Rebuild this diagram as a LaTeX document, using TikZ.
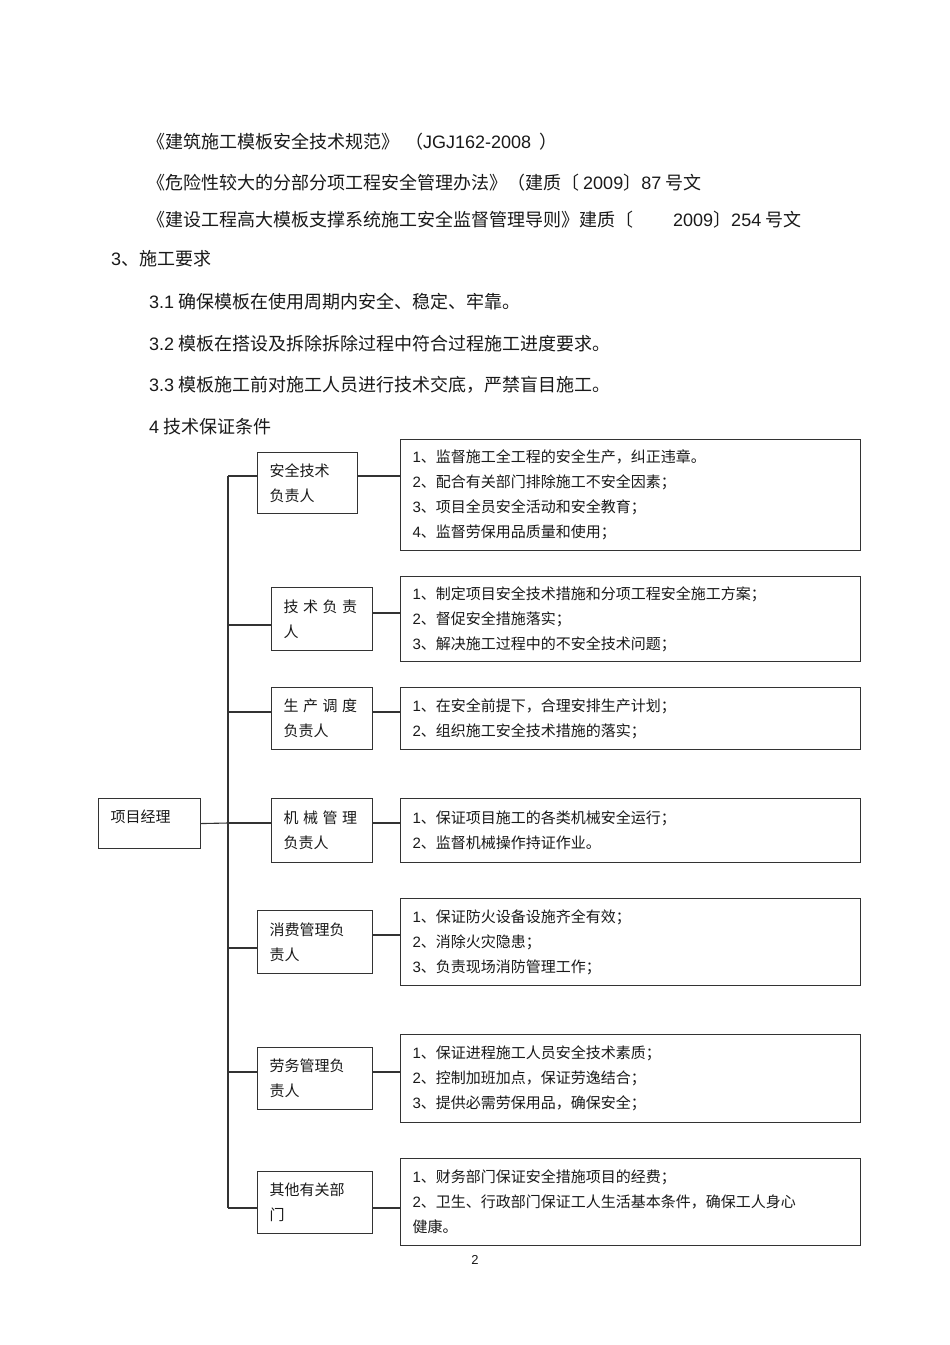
\documentclass[tikz,border=0pt]{standalone}
\usepackage{fontspec}
\setmainfont{Noto Sans CJK SC}
\newfontfamily\latfont{Liberation Sans}
\begin{document}
\begin{tikzpicture}[x=1pt,y=-1pt,
  line/.style={draw=black!80, line width=1.1pt},
  box/.style={draw=black!80, line width=1.1pt, anchor=north west, inner xsep=12pt, inner ysep=0pt, align=left, text=black!90, font=\fontsize{15}{25}\selectfont},
  head/.style={anchor=base west, inner sep=0pt, text=black!90, font=\fontsize{18}{22}\selectfont},
]
\useasboundingbox[fill=white] (0,0) rectangle (950,1345);

% heading text
\node[head] (l1) at (147,148.5) {《建筑施工模板安全技术规范》\hspace{6pt}（{\latfont JGJ162-2008}\hspace{8pt}）};
\node[head] (l2) at (147,189.5) {《危险性较大的分部分项工程安全管理办法》（建质〔 {\latfont 2009}〕{\latfont 87} 号文};
\node[head] (l3) at (147,226.5) {《建设工程高大模板支撑系统施工安全监督管理导则》建质〔\hspace{40pt}{\latfont 2009}〕{\latfont 254} 号文};
\node[head] (l4) at (111,265.5) {{\latfont 3}、施工要求};
\node[head] (l5) at (149,308.5) {{\latfont 3.1} 确保模板在使用周期内安全、稳定、牢靠。};
\node[head] (l6) at (149,350.5) {{\latfont 3.2} 模板在搭设及拆除拆除过程中符合过程施工进度要求。};
\node[head] (l7) at (149,391.5) {{\latfont 3.3} 模板施工前对施工人员进行技术交底，严禁盲目施工。};
\node[head] (l8) at (149,433.5) {{\latfont 4} 技术保证条件};

% project manager
\node[box, minimum width=102pt, minimum height=50pt, text width=78pt] (pm) at (98,798) {\raisebox{6pt}[11pt][2pt]{项目经理}};

% middle boxes
\node[box, minimum width=100pt, minimum height=61pt, text width=76pt] (m1) at (257,452) {安全技术\\负责人};
\node[box, minimum width=101pt, minimum height=63pt, text width=77pt] (m2) at (271,587) {技\hspace{4.5pt}术\hspace{4.5pt}负\hspace{4.5pt}责\\人};
\node[box, minimum width=101pt, minimum height=62pt, text width=77pt] (m3) at (271,687) {生\hspace{4.5pt}产\hspace{4.5pt}调\hspace{4.5pt}度\\负责人};
\node[box, minimum width=101pt, minimum height=64pt, text width=77pt] (m4) at (271,798) {机\hspace{4.5pt}械\hspace{4.5pt}管\hspace{4.5pt}理\\负责人};
\node[box, minimum width=115pt, minimum height=63pt, text width=91pt] (m5) at (257,910) {消费管理负\\责人};
\node[box, minimum width=115pt, minimum height=62pt, text width=91pt] (m6) at (257,1047) {劳务管理负\\责人};
\node[box, minimum width=115pt, minimum height=62pt, text width=91pt] (m7) at (257,1171) {其他有关部\\门};

% right boxes
\node[box, minimum width=460pt, minimum height=111pt, text width=436pt] (r1) at (400,439) {{\latfont 1}、监督施工全工程的安全生产，纠正违章。\\{\latfont 2}、配合有关部门排除施工不安全因素；\\{\latfont 3}、项目全员安全活动和安全教育；\\{\latfont 4}、监督劳保用品质量和使用；};
\node[box, minimum width=460pt, minimum height=85pt, text width=436pt] (r2) at (400,576) {{\latfont 1}、制定项目安全技术措施和分项工程安全施工方案；\\{\latfont 2}、督促安全措施落实；\\{\latfont 3}、解决施工过程中的不安全技术问题；};
\node[box, minimum width=460pt, minimum height=62pt, text width=436pt] (r3) at (400,687) {{\latfont 1}、在安全前提下，合理安排生产计划；\\{\latfont 2}、组织施工安全技术措施的落实；};
\node[box, minimum width=460pt, minimum height=64pt, text width=436pt] (r4) at (400,798) {{\latfont 1}、保证项目施工的各类机械安全运行；\\{\latfont 2}、监督机械操作持证作业。};
\node[box, minimum width=460pt, minimum height=87pt, text width=436pt] (r5) at (400,898) {{\latfont 1}、保证防火设备设施齐全有效；\\{\latfont 2}、消除火灾隐患；\\{\latfont 3}、负责现场消防管理工作；};
\node[box, minimum width=460pt, minimum height=88pt, text width=436pt] (r6) at (400,1034) {{\latfont 1}、保证进程施工人员安全技术素质；\\{\latfont 2}、控制加班加点，保证劳逸结合；\\{\latfont 3}、提供必需劳保用品，确保安全；};
\node[box, minimum width=460pt, minimum height=87pt, text width=436pt] (r7) at (400,1158) {{\latfont 1}、财务部门保证安全措施项目的经费；\\{\latfont 2}、卫生、行政部门保证工人生活基本条件，确保工人身心\\健康。};

% trunk coordinates
\coordinate (t1) at (228,476);
\coordinate (t2) at (228,625);
\coordinate (t3) at (228,712);
\coordinate (t4) at (228,823);
\coordinate (t5) at (228,948);
\coordinate (t6) at (228,1072);
\coordinate (t7) at (228,1208);
% right connector levels
\coordinate (s1) at (386,476);
\coordinate (s2) at (386,613);
\coordinate (s3) at (386,712);
\coordinate (s4) at (386,823);
\coordinate (s5) at (386,935);
\coordinate (s6) at (386,1072);
\coordinate (s7) at (386,1208);

\draw[line] (t1) -- (t7);
\draw[line] (pm.east) -- (t4);
\draw[line] (t1) -- (t1 -| m1.west);
\draw[line, line width=2pt] (t2) -- (t2 -| m2.west);
\draw[line] (t3) -- (t3 -| m3.west);
\draw[line] (t4) -- (t4 -| m4.west);
\draw[line] (t5) -- (t5 -| m5.west);
\draw[line] (t6) -- (t6 -| m6.west);
\draw[line] (t7) -- (t7 -| m7.west);

\draw[line] (s1 -| m1.east) -- (s1 -| r1.west);
\draw[line] (s2 -| m2.east) -- (s2 -| r2.west);
\draw[line] (s3 -| m3.east) -- (s3 -| r3.west);
\draw[line] (s4 -| m4.east) -- (s4 -| r4.west);
\draw[line] (s5 -| m5.east) -- (s5 -| r5.west);
\draw[line] (s6 -| m6.east) -- (s6 -| r6.west);
\draw[line] (s7 -| m7.east) -- (s7 -| r7.west);

% page number
\node[text=black!90, font=\latfont\fontsize{13}{15}\selectfont, inner sep=0pt] (pg) at (475,1260) {2};
\end{tikzpicture}
\end{document}
